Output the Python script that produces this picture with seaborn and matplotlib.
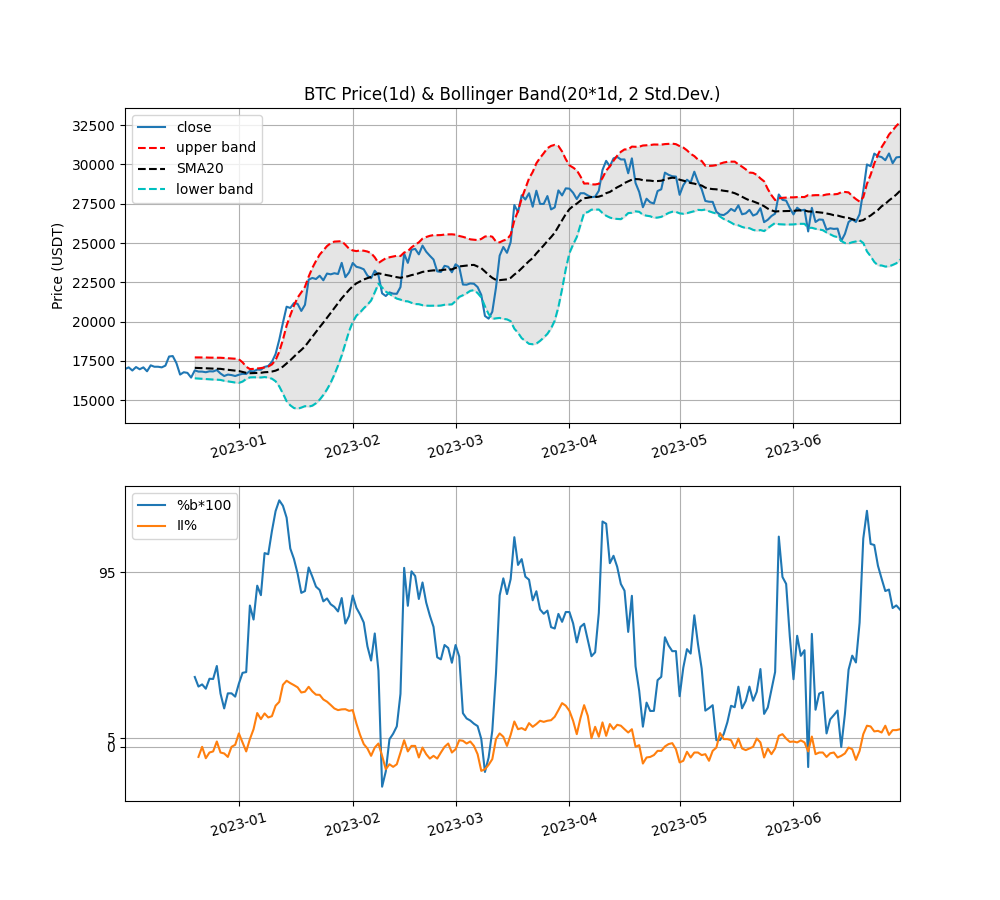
import numpy as np
import pandas as pd
import seaborn as sns
import matplotlib
matplotlib.use('Agg')
import matplotlib.pyplot as plt
import matplotlib.dates as mdates

# daily closes (USDT)
close_dec = [16980, 17090, 16890, 17110, 16970, 17090, 16840, 17220, 17130, 17130, 17090,
             17200, 17780, 17810, 17360, 16630, 16780, 16740, 16440, 16900, 16820, 16820,
             16780, 16840, 16830, 16920, 16700, 16540, 16630, 16600, 16540]
close_jan = [16620, 16680, 16670, 16860, 16830, 16950, 16940, 17120, 17180, 17440, 17940,
             18850, 19930, 20950, 20870, 21180, 21130, 20680, 21070, 22670, 22780, 22710,
             22920, 22630, 23060, 23010, 23080, 23030, 23740, 22830, 23130]
close_feb = [23730, 23490, 23430, 23330, 22930, 22760, 23240, 22960, 21800, 21630, 21860,
             21780, 21770, 22200, 24320, 23740, 24570, 24630, 24280, 24840, 24450, 24190,
             23950, 23200, 23160, 23550, 23490, 23140]
close_mar = [23650, 23480, 22360, 22350, 22430, 22410, 22200, 21700, 20360, 20190, 20630,
             22160, 24200, 24750, 24380, 25060, 27420, 26970, 28040, 27770, 28170, 27310,
             28330, 27490, 27490, 27990, 27140, 27270, 28350, 28030, 28480]
close_apr = [28460, 28200, 27800, 28170, 28170, 28030, 27920, 27950, 28330, 29650, 30230,
             29880, 30390, 30480, 30320, 30320, 29440, 30390, 28820, 28250, 27280, 27820,
             27590, 27520, 28310, 28420, 29480, 29340, 29250, 29230]
close_may = [28070, 28680, 29030, 28850, 29540, 28900, 28430, 27680, 27630, 27620, 26990,
             26810, 26780, 26930, 27170, 27030, 27400, 26830, 26890, 27110, 26750, 26850,
             27220, 26330, 26480, 26720, 26870, 28090, 27750, 27700, 27220]
close_jun = [26820, 27250, 27070, 27120, 25740, 27240, 26340, 26500, 26480, 25850, 25940,
             25900, 25920, 25130, 25580, 26340, 26510, 26340, 26840, 28310, 30000, 29890,
             30690, 30530, 30470, 30270, 30700, 30080, 30450, 30480]

# intraday intensity % (starts 2022-12-21)
ii_dec = [-5.5, 0, -6.2, -3.1, -2.5, 2.9, -3.1, -3.6, -5.5, 0, 1.1]
ii_jan = [7.3, 2.4, -2.5, 4.2, 9.6, 18.4, 15.1, 18.2, 16, 16.7, 22.4, 24.5, 33.8, 36, 34.7,
          33.6, 32.4, 29.6, 30, 32.7, 30.2, 28.4, 28.3, 25.8, 24.6, 22.8, 20.9, 20, 20.4,
          20.5, 19.6]
ii_feb = [20, 12.7, 6.5, 1.5, -0.9, -4.9, -0.4, 1.8, -4.9, -12.2, -9.5, -10.9, -9.5, -3.1,
          3.6, -2.5, 0.5, 0.5, -5.8, -0.4, -4, -6.4, -4.9, -6.4, -3.1, 0, 1.8, -3.1]
ii_mar = [-1.3, 3.6, 3.3, 1.8, 2.9, 0.5, -4, -13.1, -12.2, -9.8, -6.7, 4.2, 7.3, 5.5, 0.5,
          6.5, 13.8, 9.6, 10.2, 9.1, 12.9, 10.9, 12.4, 14.2, 13.6, 14.2, 14.5, 16.4, 20,
          23.8, 22.4]
ii_apr = [19.6, 14.2, 6.9, 15.6, 22.7, 16.9, 4.7, 10.9, 5.5, 13.3, 6, 12.4, 9.6, 12, 11.5,
          9.6, 7.8, 9.6, 0, 0.9, -9.1, -5.8, -5.5, -4.5, -2.2, -2.2, 0.2, 1.5, 2, -1.3]
ii_may = [-8.5, -7.6, -2.7, -5.8, -3.1, -3.1, -4.5, -4, -7.6, -2.2, -0.4, 7.5, 4.2, 4.2,
          3.6, -0.7, 4.5, -0.9, -1.8, -0.9, 0, 4.5, 2.4, -5.8, -0.9, -4, -0.9, 6, 6.9, 4.5,
          2.7]
ii_jun = [2.9, 2.4, 3.5, 2.4, -2.5, 5.6, -4, -3.1, -3.1, -5.5, -3.5, -3.1, -5.8, -4.9,
          -3.6, -0.4, -1.3, -7.1, -2.2, 6.9, 11.5, 11.1, 8.4, 8.7, 7.8, 11.5, 6.5, 9.1, 9.1,
          9.6]

month_ticks = ['2023-01-01', '2023-02-01', '2023-03-01', '2023-04-01', '2023-05-01', '2023-06-01']

close = close_dec + close_jan + close_feb + close_mar + close_apr + close_may + close_jun
ii = [np.nan] * 20 + ii_dec + ii_jan + ii_feb + ii_mar + ii_apr + ii_may + ii_jun

df = pd.DataFrame({'date': pd.date_range('2022-12-01', periods=len(close), freq='D'),
                   'close': close, 'II%': ii})

# bollinger band 20 days, 2 std
df['SMA20'] = df['close'].rolling(20).mean()
sd = df['close'].rolling(20).std()
df['upper band'] = df['SMA20'] + 2 * sd
df['lower band'] = df['SMA20'] - 2 * sd
df['%b*100'] = (df['close'] - df['lower band']) / (df['upper band'] - df['lower band']) * 100

fig, (ax1, ax2) = plt.subplots(2, 1, figsize=(10, 9))

#%%
# price + bands
sns.lineplot(x='date', y='close', data=df, ax=ax1, color='C0', label='close')
sns.lineplot(x='date', y='upper band', data=df, ax=ax1, color='r', linestyle='--', label='upper band')
sns.lineplot(x='date', y='SMA20', data=df, ax=ax1, color='k', linestyle='--', label='SMA20')
sns.lineplot(x='date', y='lower band', data=df, ax=ax1, color='c', linestyle='--', label='lower band')
band = df.dropna(subset=['upper band'])
ax1.fill_between(band['date'], band['lower band'], band['upper band'], color='gray', alpha=0.2)
ax1.set_title('BTC Price(1d) & Bollinger Band(20*1d, 2 Std.Dev.)')
ax1.set_ylabel('Price (USDT)')
ax1.set_xlabel('')
ax1.legend(loc='upper left')
ax1.grid(True)

#%%
# %b and II%
sns.lineplot(x='date', y='%b*100', data=df, ax=ax2, color='C0', label='%b*100')
sns.lineplot(x='date', y='II%', data=df, ax=ax2, color='C1', label='II%')
ax2.set_yticks([0, 5, 95])
ax2.set_ylabel('')
ax2.set_xlabel('')
ax2.legend(loc='upper left')
ax2.grid(True)

for ax in (ax1, ax2):
    ax.set_xlim(df['date'].iloc[0], df['date'].iloc[-1])
    ax.set_xticks(pd.to_datetime(month_ticks))
    ax.xaxis.set_major_formatter(mdates.DateFormatter('%Y-%m'))
    plt.setp(ax.get_xticklabels(), rotation=15)

plt.savefig('out.png', dpi=100)
